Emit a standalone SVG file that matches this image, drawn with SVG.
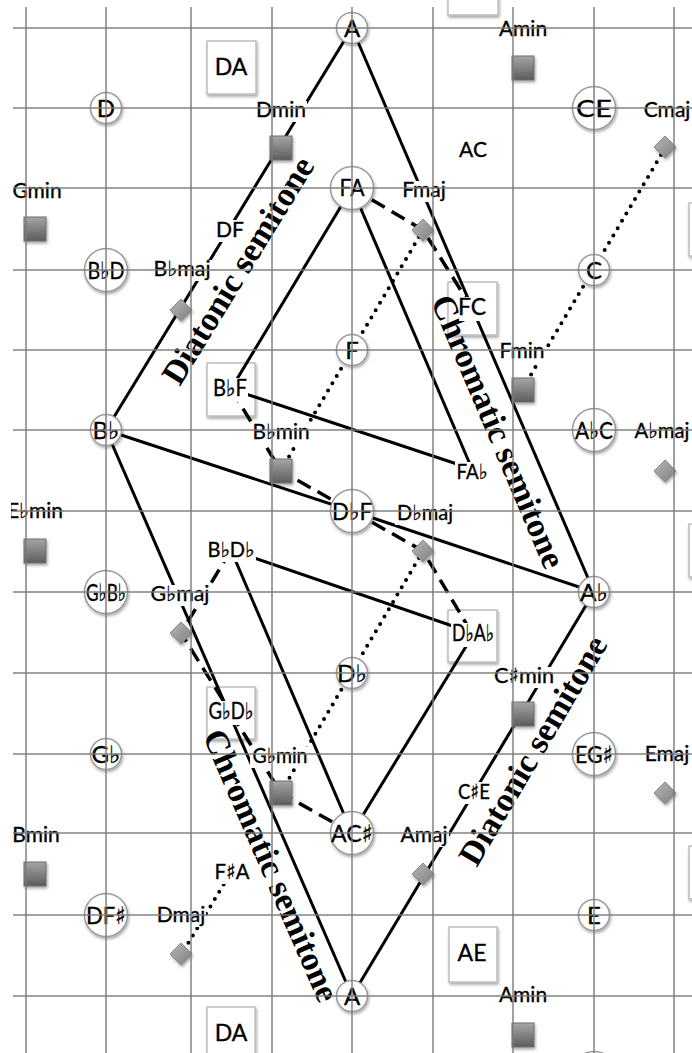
<svg xmlns="http://www.w3.org/2000/svg" width="692" height="1053" viewBox="0 0 692 1053">
<defs>
<filter id="sh" x="-40%" y="-40%" width="180%" height="180%"><feDropShadow dx="1" dy="2" stdDeviation="1.5" flood-color="#000" flood-opacity="0.35"/></filter>
<linearGradient id="gsq" x1="0" y1="0" x2="0" y2="1"><stop offset="0" stop-color="#a6a6a6"/><stop offset="1" stop-color="#5c5c5c"/></linearGradient>
<linearGradient id="gdm" x1="0" y1="0" x2="1" y2="1"><stop offset="0" stop-color="#b8b8b8"/><stop offset="1" stop-color="#7e7e7e"/></linearGradient>
<style>
.grid line{stroke:#7a7a7a;stroke-width:2;opacity:.7}
.nc circle{fill:#fff;stroke:#9a9a9a;stroke-width:1.5;filter:url(#sh)}
.bx{fill:#fff;stroke:#bdbdbd;stroke-width:1.5;filter:url(#sh)}
.sq{fill:url(#gsq);stroke:#6e6e6e;stroke-width:1;filter:url(#sh)}
.dm{fill:url(#gdm);stroke:#8a8a8a;stroke-width:1;filter:url(#sh)}
.bg{fill:#fff}
.lbl,.ft,.bt,.ct{font-family:Lato,"DejaVu Sans",sans-serif;text-anchor:middle;fill:#000;stroke:#000;stroke-width:0.35}
.lbl{font-size:21px}
.ft{font-size:21px}
.bt{font-size:23px}
.ct{font-size:24px}
.solid{stroke:#000;stroke-width:3;fill:none}
.dash{stroke:#000;stroke-width:3.5;stroke-dasharray:15 8;fill:none}
.dot{stroke:#000;stroke-width:4;stroke-dasharray:0 8.5;stroke-linecap:round;fill:none}
.rot{font-family:"Liberation Serif",serif;font-weight:bold;font-size:34px;text-anchor:middle;fill:#000}
</style>
</defs>
<rect x="0" y="0" width="692" height="1053" fill="#fff"/>

<!-- box node frames -->
<g id="boxes">
<g id="box-AE-top"><rect class="bx" x="448" y="-38" width="50" height="53"/></g>
<g id="box-DA-top"><rect class="bx" x="207" y="41" width="49" height="53"/></g>
<g id="box-right-1"><rect class="bx" x="689" y="203" width="50" height="53"/></g>
<g id="box-FC"><rect class="bx" x="448" y="282" width="49" height="53"/></g>
<g id="box-BbF"><rect class="bx" x="207" y="363" width="48" height="53"/></g>
<g id="box-right-2"><rect class="bx" x="689" y="524" width="50" height="53"/></g>
<g id="box-DbAb"><rect class="bx" x="448" y="610" width="49" height="52"/></g>
<g id="box-GbDb"><rect class="bx" x="207" y="687" width="48" height="52"/></g>
<g id="box-right-3"><rect class="bx" x="689" y="846" width="50" height="53"/></g>
<g id="box-AE"><rect class="bx" x="449" y="927" width="48" height="55"/></g>
<g id="box-DA-bottom"><rect class="bx" x="207" y="1007" width="48" height="56"/></g>
</g>

<!-- connectors -->
<g id="connectors">
<line class="solid" x1="352" y1="28" x2="106" y2="430"/>
<line class="solid" x1="352" y1="28" x2="594" y2="592"/>
<line class="solid" x1="106" y1="430" x2="352" y2="996"/>
<line class="solid" x1="594" y1="592" x2="352" y2="996"/>
<line class="solid" x1="352" y1="188" x2="231" y2="389"/>
<line class="solid" x1="352" y1="188" x2="472" y2="469"/>
<line class="solid" x1="231" y1="389" x2="472" y2="469"/>
<line class="solid" x1="106" y1="430" x2="352" y2="511"/>
<line class="solid" x1="352" y1="511" x2="594" y2="592"/>
<line class="solid" x1="231" y1="550" x2="473" y2="633"/>
<line class="solid" x1="231" y1="550" x2="352" y2="833"/>
<line class="solid" x1="473" y1="635" x2="352" y2="833"/>
<polyline class="dash" points="352,188 423,230 472,308"/>
<polyline class="dash" points="231,389 281,471 352,511"/>
<polyline class="dash" points="352,511 423,551 473,635"/>
<polyline class="dash" points="231,550 181,633 231,713"/>
<polyline class="dash" points="231,713 281,793 352,833"/>
<line class="dot" x1="661" y1="155" x2="526" y2="383"/>
<line class="dot" x1="419" y1="237" x2="284" y2="465"/>
<line class="dot" x1="419" y1="558" x2="284" y2="787"/>
<line class="dot" x1="184" y1="950" x2="224" y2="884"/>
</g>

<!-- rotated interval labels -->
<g id="interval-labels">
<text class="rot" transform="translate(239,271) rotate(-58.5)" dy="10">Diatonic semitone</text>
<text class="rot" transform="translate(497,432) rotate(67)" dy="10">Chromatic semitone</text>
<text class="rot" transform="translate(270,866) rotate(66.5)" dy="10">Chromatic semitone</text>
<text class="rot" transform="translate(534,751) rotate(-59.5)" dy="10">Diatonic semitone</text>
</g>

<!-- chord markers -->
<g id="n-Amin-top"><rect class="sq" x="512" y="56" width="22" height="24"/><rect class="bg" x="497" y="20" width="52" height="21"/><text class="lbl" x="523" y="36">Amin</text></g>
<g id="n-Dmin"><rect class="sq" x="270" y="136" width="22" height="24"/><rect class="bg" x="255" y="101" width="52" height="21"/><text class="lbl" x="281" y="117">Dmin</text></g>
<g id="n-Gmin"><rect class="sq" x="24" y="217" width="22" height="24"/><rect class="bg" x="11" y="182" width="53" height="21"/><text class="lbl" x="37" y="198">Gmin</text></g>
<g id="n-Fmin"><rect class="sq" x="512" y="378" width="22" height="24"/><rect class="bg" x="498" y="342" width="48" height="21"/><text class="lbl" x="522" y="358">Fmin</text></g>
<g id="n-Bbmin"><rect class="sq" x="270" y="459" width="22" height="24"/><rect class="bg" x="250" y="423" width="62" height="21"/><text class="lbl" x="281" y="439" textLength="57" lengthAdjust="spacingAndGlyphs">B♭min</text></g>
<g id="n-Ebmin"><rect class="sq" x="24" y="539" width="22" height="24"/><rect class="bg" x="5" y="502" width="60" height="21"/><text class="lbl" x="35" y="518" textLength="56" lengthAdjust="spacingAndGlyphs">E♭min</text></g>
<g id="n-Csmin"><rect class="sq" x="512" y="702" width="22" height="24"/><rect class="bg" x="492" y="667" width="64" height="21"/><text class="lbl" x="524" y="683" textLength="60" lengthAdjust="spacingAndGlyphs">C♯min</text></g>
<g id="n-Gbmin"><rect class="sq" x="270" y="781" width="22" height="24"/><rect class="bg" x="250" y="747" width="60" height="21"/><text class="lbl" x="280" y="763" textLength="55" lengthAdjust="spacingAndGlyphs">G♭min</text></g>
<g id="n-Bmin"><rect class="sq" x="24" y="862" width="22" height="24"/><rect class="bg" x="11" y="826" width="50" height="21"/><text class="lbl" x="36" y="842">Bmin</text></g>
<g id="n-Amin-bottom"><rect class="sq" x="512" y="1023" width="22" height="24"/><rect class="bg" x="497" y="986" width="52" height="21"/><text class="lbl" x="523" y="1002">Amin</text></g>

<g id="n-Cmaj"><polygon class="dm" points="665,136 676,147 665,158 654,147"/><rect class="bg" x="642" y="101" width="50" height="21"/><text class="lbl" x="667" y="117">Cmaj</text></g>
<g id="n-Fmaj"><polygon class="dm" points="423,219 434,230 423,241 412,230"/><rect class="bg" x="400" y="181" width="48" height="21"/><text class="lbl" x="424" y="197">Fmaj</text></g>
<g id="n-Bbmaj"><polygon class="dm" points="181,299 192,310 181,321 170,310"/><rect class="bg" x="151" y="260" width="62" height="21"/><text class="lbl" x="182" y="276" textLength="57" lengthAdjust="spacingAndGlyphs">B♭maj</text></g>
<g id="n-Abmaj"><polygon class="dm" points="665,460 676,471 665,482 654,471"/><rect class="bg" x="632" y="422" width="60" height="21"/><text class="lbl" x="662" y="438" textLength="55" lengthAdjust="spacingAndGlyphs">A♭maj</text></g>
<g id="n-Dbmaj"><polygon class="dm" points="423,540 434,551 423,562 412,551"/><rect class="bg" x="395" y="504" width="60" height="21"/><text class="lbl" x="425" y="520" textLength="56" lengthAdjust="spacingAndGlyphs">D♭maj</text></g>
<g id="n-Gbmaj"><polygon class="dm" points="181,622 192,633 181,644 170,633"/><rect class="bg" x="148" y="585" width="64" height="21"/><text class="lbl" x="180" y="601" textLength="59" lengthAdjust="spacingAndGlyphs">G♭maj</text></g>
<g id="n-Emaj"><polygon class="dm" points="665,782 676,793 665,804 654,793"/><rect class="bg" x="642" y="745" width="50" height="21"/><text class="lbl" x="667" y="761">Emaj</text></g>
<g id="n-Amaj"><polygon class="dm" points="423,863 434,874 423,885 412,874"/><rect class="bg" x="399" y="826" width="50" height="21"/><text class="lbl" x="424" y="842">Amaj</text></g>
<g id="n-Dmaj"><polygon class="dm" points="181,943 192,954 181,965 170,954"/><rect class="bg" x="157" y="906" width="49" height="21"/><text class="lbl" x="181" y="922">Dmaj</text></g>

<!-- dyad labels without frames -->
<g id="n-AC"><rect class="bg" x="459" y="140" width="28" height="22"/><text class="ft" x="473" y="157">AC</text></g>
<g id="n-DF"><rect class="bg" x="216" y="220" width="28" height="22"/><text class="ft" x="230" y="237">DF</text></g>
<g id="n-FAb"><rect class="bg" x="455" y="462" width="35" height="22"/><text class="ft" x="472" y="479" textLength="31" lengthAdjust="spacingAndGlyphs">FA♭</text></g>
<g id="n-BbDb"><rect class="bg" x="206" y="540" width="50" height="22"/><text class="ft" x="231" y="557" textLength="47" lengthAdjust="spacingAndGlyphs">B♭D♭</text></g>
<g id="n-CsE"><rect class="bg" x="456" y="782" width="36" height="22"/><text class="ft" x="474" y="799" textLength="32" lengthAdjust="spacingAndGlyphs">C♯E</text></g>
<g id="n-FsA"><rect class="bg" x="213" y="862" width="38" height="22"/><text class="ft" x="232" y="879" textLength="35" lengthAdjust="spacingAndGlyphs">F♯A</text></g>

<!-- box node labels -->
<g id="box-DA-top-label"><rect class="bg" x="215" y="57" width="32" height="24"/><text class="bt" x="231" y="75">DA</text></g>
<g id="box-FC-label"><rect class="bg" x="459" y="297" width="26" height="24"/><text class="bt" x="472" y="315">FC</text></g>
<g id="box-BbF-label"><rect class="bg" x="212" y="378" width="36" height="24"/><text class="bt" x="230" y="396" textLength="34" lengthAdjust="spacingAndGlyphs">B♭F</text></g>
<g id="box-DbAb-label"><rect class="bg" x="451" y="623" width="44" height="24"/><text class="bt" x="473" y="641" textLength="42" lengthAdjust="spacingAndGlyphs">D♭A♭</text></g>
<g id="box-GbDb-label"><rect class="bg" x="208" y="701" width="46" height="24"/><text class="bt" x="231" y="719" textLength="45" lengthAdjust="spacingAndGlyphs">G♭D♭</text></g>
<g id="box-AE-label"><rect class="bg" x="458" y="943" width="28" height="24"/><text class="bt" x="472" y="961">AE</text></g>
<g id="box-DA-bottom-label"><rect class="bg" x="215" y="1023" width="32" height="24"/><text class="bt" x="231" y="1041">DA</text></g>

<!-- note circles -->
<g class="nc">
<g id="c-A-top"><circle cx="352" cy="28" r="15.5"/><text class="ct" x="352" y="36.5">A</text></g>
<g id="c-D"><circle cx="106" cy="108" r="15.5"/><text class="ct" x="106" y="116.5">D</text></g>
<g id="c-CE"><circle cx="594" cy="108" r="21.5"/><text class="ct" x="594" y="116.5" textLength="36" lengthAdjust="spacingAndGlyphs">CE</text></g>
<g id="c-FA"><circle cx="352" cy="188" r="21.5"/><text class="ct" x="352" y="196" font-size="21" textLength="25" lengthAdjust="spacingAndGlyphs">FA</text></g>
<g id="c-BbD"><circle cx="106" cy="270" r="21.5"/><text class="ct" x="106" y="278.5" textLength="37" lengthAdjust="spacingAndGlyphs">B♭D</text></g>
<g id="c-C"><circle cx="594" cy="270" r="15.5"/><text class="ct" x="594" y="278.5">C</text></g>
<g id="c-F"><circle cx="352" cy="350" r="15.5"/><text class="ct" x="352" y="358.5">F</text></g>
<g id="c-Bb"><circle cx="106" cy="430" r="15.5"/><text class="ct" x="106" y="438.5" textLength="27" lengthAdjust="spacingAndGlyphs">B♭</text></g>
<g id="c-AbC"><circle cx="594" cy="430" r="21.5"/><text class="ct" x="594" y="438.5" textLength="38" lengthAdjust="spacingAndGlyphs">A♭C</text></g>
<g id="c-DbF"><circle cx="352" cy="511" r="21.5"/><text class="ct" x="352" y="519.5" textLength="40" lengthAdjust="spacingAndGlyphs">D♭F</text></g>
<g id="c-GbBb"><circle cx="106" cy="592" r="21.5"/><text class="ct" x="106" y="600.5" textLength="40" lengthAdjust="spacingAndGlyphs">G♭B♭</text></g>
<g id="c-Ab"><circle cx="594" cy="592" r="15.5"/><text class="ct" x="594" y="600.5" textLength="28" lengthAdjust="spacingAndGlyphs">A♭</text></g>
<g id="c-Db"><circle cx="352" cy="673" r="15.5"/><text class="ct" x="352" y="681.5" textLength="30" lengthAdjust="spacingAndGlyphs">D♭</text></g>
<g id="c-Gb"><circle cx="106" cy="754" r="15.5"/><text class="ct" x="106" y="762.5" textLength="29" lengthAdjust="spacingAndGlyphs">G♭</text></g>
<g id="c-EGs"><circle cx="594" cy="754" r="21.5"/><text class="ct" x="594" y="762.5" textLength="38" lengthAdjust="spacingAndGlyphs">EG♯</text></g>
<g id="c-ACs"><circle cx="352" cy="833" r="21.5"/><text class="ct" x="352" y="841.5" textLength="42" lengthAdjust="spacingAndGlyphs">AC♯</text></g>
<g id="c-DFs"><circle cx="106" cy="915" r="21.5"/><text class="ct" x="106" y="923.5" textLength="40" lengthAdjust="spacingAndGlyphs">DF♯</text></g>
<g id="c-E"><circle cx="594" cy="915" r="15.5"/><text class="ct" x="594" y="923.5">E</text></g>
<g id="c-A-bottom"><circle cx="352" cy="996" r="15.5"/><text class="ct" x="352" y="1004.5">A</text></g>
<g id="c-partial"><circle cx="594" cy="1073" r="21.5"/></g>
</g>

<!-- grid overlay -->
<g class="grid" id="grid">
<line x1="26" y1="7" x2="26" y2="1053"/>
<line x1="106" y1="7" x2="106" y2="1053"/>
<line x1="191" y1="7" x2="191" y2="1053"/>
<line x1="272" y1="7" x2="272" y2="1053"/>
<line x1="352" y1="7" x2="352" y2="1053"/>
<line x1="433" y1="7" x2="433" y2="1053"/>
<line x1="513" y1="7" x2="513" y2="1053"/>
<line x1="594" y1="7" x2="594" y2="1053"/>
<line x1="674" y1="7" x2="674" y2="1053"/>
<line x1="13" y1="28" x2="692" y2="28"/>
<line x1="13" y1="108" x2="692" y2="108"/>
<line x1="13" y1="188" x2="692" y2="188"/>
<line x1="13" y1="270" x2="692" y2="270"/>
<line x1="13" y1="350" x2="692" y2="350"/>
<line x1="13" y1="430" x2="692" y2="430"/>
<line x1="13" y1="511" x2="692" y2="511"/>
<line x1="13" y1="592" x2="692" y2="592"/>
<line x1="13" y1="673" x2="692" y2="673"/>
<line x1="13" y1="754" x2="692" y2="754"/>
<line x1="13" y1="833" x2="692" y2="833"/>
<line x1="13" y1="915" x2="692" y2="915"/>
<line x1="13" y1="996" x2="692" y2="996"/>
</g>
<rect x="0" y="0" width="11" height="1053" fill="#fff"/>
</svg>
